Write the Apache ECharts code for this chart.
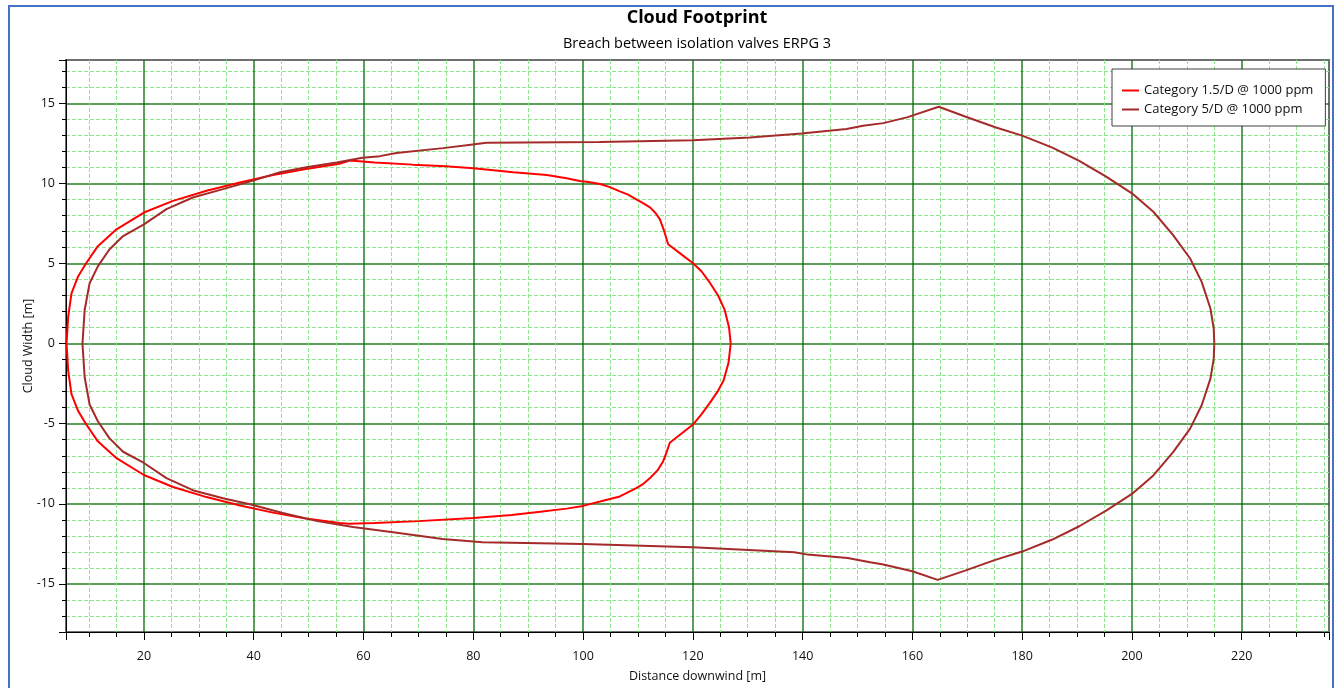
<!DOCTYPE html>
<html>
<head>
<meta charset="utf-8">
<title>Cloud Footprint</title>
<script src="https://cdn.jsdelivr.net/npm/echarts@6/dist/echarts.min.js"></script>
<style>
  html, body { margin: 0; padding: 0; background: #ffffff; }
  #chart { width: 1336px; height: 688px; }
</style>
</head>
<body>
<div id="chart"></div>
<script>
// Chart heading
const chartTitle = 'Cloud Footprint';
const chartSubtitle = 'Breach between isolation valves ERPG 3';

// Series names shown in the legend
const seriesNames = ['Category 1.5/D @ 1000 ppm', 'Category 5/D @ 1000 ppm'];

// Footprint outline for weather category 1.5/D: [distance downwind (m), cloud width (m)]
const footprint15D = [
  [126.9, 0], [126.6, 1.0], [125.8, 2.1], [124.6, 3.0], [123.1, 3.8], [121.6, 4.5],
  [120.1, 5.0], [117.8, 5.6], [115.5, 6.2], [114.8, 7.0], [114.0, 7.75], [113.2, 8.15],
  [112.2, 8.5], [111.0, 8.75], [109.7, 9.0], [108.2, 9.3], [106.7, 9.5], [105.0, 9.75],
  [103.1, 9.96], [101.0, 10.08], [99.4, 10.15], [97.0, 10.32], [93.4, 10.52], [87.3, 10.69],
  [80.0, 10.94], [75.0, 11.07], [69.0, 11.17], [62.0, 11.3], [59.8, 11.36], [57.5, 11.42],
  [55.6, 11.22], [49.5, 10.9], [43.5, 10.52], [37.5, 10.06], [31.4, 9.54], [25.3, 8.91],
  [20.0, 8.18], [15.0, 7.13], [11.6, 6.08], [9.5, 5.03], [8.0, 4.19], [6.8, 3.14],
  [6.2, 1.68], [5.9, 0],
  [6.2, -1.7], [6.8, -3.15], [8.0, -4.2], [9.5, -5.05], [11.6, -6.1], [15.0, -7.15],
  [20.0, -8.2], [25.3, -8.95], [31.4, -9.58], [37.5, -10.1], [43.5, -10.55], [49.5, -10.92],
  [55.6, -11.2], [57.3, -11.25], [62.0, -11.2], [70.0, -11.08], [80.0, -10.88], [87.0, -10.7],
  [92.2, -10.5], [97.0, -10.3], [100.0, -10.13], [103.1, -9.86], [106.7, -9.54], [109.7, -9.02],
  [111.0, -8.75], [112.2, -8.39], [113.6, -7.9], [114.6, -7.34], [115.2, -6.8], [115.8, -6.19],
  [118.0, -5.6], [120.1, -5.03], [121.6, -4.4], [123.1, -3.7], [124.5, -3.0], [125.6, -2.3],
  [126.5, -1.2], [126.9, 0]
];

// Footprint outline for weather category 5/D: [distance downwind (m), cloud width (m)]
const footprint5D = [
  [215.0, 0], [214.9, 0.94], [214.3, 2.19], [212.7, 3.85], [210.6, 5.31], [207.5, 6.77],
  [203.9, 8.23], [200.0, 9.38], [195.3, 10.42], [190.4, 11.4], [185.5, 12.23], [180.0, 12.98],
  [175.1, 13.5], [169.6, 14.17], [164.8, 14.78], [159.0, 14.12], [154.7, 13.76], [151.0, 13.6],
  [148.0, 13.39], [139.8, 13.11], [130.4, 12.86], [120.0, 12.69], [103.0, 12.58], [82.4, 12.53],
  [79.9, 12.43], [74.5, 12.2], [66.0, 11.9], [63.0, 11.7], [59.8, 11.6], [55.1, 11.3],
  [49.6, 11.0], [44.8, 10.7], [39.9, 10.17], [34.4, 9.64], [28.9, 9.12], [24.1, 8.39],
  [20.0, 7.44], [16.2, 6.71], [13.7, 5.87], [11.6, 4.82], [10.1, 3.77], [9.2, 2.1], [8.8, 0],
  [9.2, -2.1], [10.1, -3.8], [11.6, -4.85], [13.7, -5.9], [16.2, -6.75], [20.0, -7.45],
  [24.1, -8.4], [28.9, -9.15], [34.4, -9.65], [39.5, -10.04], [45.1, -10.56], [51.6, -11.08],
  [58.1, -11.44], [65.4, -11.77], [74.4, -12.19], [81.7, -12.4], [100.0, -12.5], [120.0, -12.71],
  [138.5, -13.02], [140.9, -13.17], [148.2, -13.38], [152.3, -13.65], [154.7, -13.79], [160.0, -14.21],
  [164.6, -14.75], [169.6, -14.17], [175.1, -13.5], [180.0, -12.98], [185.5, -12.23], [190.4, -11.4],
  [195.3, -10.42], [200.0, -9.38], [203.9, -8.23], [207.5, -6.77], [210.6, -5.31], [212.7, -3.85],
  [214.3, -2.19], [214.9, -0.94], [215.0, 0]
];

const FONT = '"Open Sans", "Noto Sans", sans-serif';
const majorGrid = { show: true, showMinLine: false, showMaxLine: false,
  lineStyle: { color: 'rgba(0, 105, 0, 0.64)', width: 2 } };
const minorGrid = { show: true,
  lineStyle: { color: '#8fe68f', width: 1, type: [4, 2] } };

const chart = echarts.init(document.getElementById('chart'), null, { renderer: 'canvas' });

chart.setOption({
  backgroundColor: '#ffffff',
  animation: false,
  legend: {
    orient: 'vertical',
    left: 1112,
    top: 69,
    padding: [15, 12, 10, 10],
    itemGap: 6,
    itemWidth: 17,
    itemHeight: 2,
    icon: 'rect',
    backgroundColor: '#ffffff',
    borderColor: '#404040',
    borderWidth: 1,
    borderRadius: 0,
    textStyle: { fontFamily: FONT, fontSize: 13, color: '#111' },
    data: seriesNames
  },
  graphic: [
    {
      // heading, centred over the plot area
      type: 'text',
      silent: true,
      x: 697, y: 18,
      style: { text: chartTitle, align: 'center', verticalAlign: 'middle',
        font: 'bold 18px ' + FONT, fill: '#000' }
    },
    {
      type: 'text',
      silent: true,
      x: 697, y: 44,
      style: { text: chartSubtitle, align: 'center', verticalAlign: 'middle',
        font: '14.5px ' + FONT, fill: '#000' }
    },
    {
      // outer frame
      type: 'rect',
      silent: true,
      z: 100,
      shape: { x: 9, y: 6, width: 1324, height: 700 },
      style: { fill: 'none', stroke: '#4472c4', lineWidth: 2 }
    }
  ],
  grid: {
    left: 66, top: 60, right: 7, bottom: 56,
    show: true,
    borderColor: '#707070',
    borderWidth: 2,
    backgroundColor: '#ffffff'
  },
  xAxis: {
    type: 'value',
    min: 5.8,
    max: 235.9,
    minInterval: 20,
    maxInterval: 20,
    splitNumber: 11,
    name: 'Distance downwind [m]',
    nameLocation: 'middle',
    nameGap: 38,
    nameTextStyle: { fontFamily: FONT, fontSize: 12.5, color: '#111' },
    axisLine: { show: true, onZero: false, lineStyle: { color: '#000', width: 1 } },
    axisTick: { show: true, length: 8, lineStyle: { color: '#000' } },
    minorTick: { show: true, splitNumber: 4, length: 5, lineStyle: { color: '#000' } },
    axisLabel: { showMinLabel: false, showMaxLabel: false, margin: 18,
      fontFamily: FONT, fontSize: 12.5, color: '#111' },
    splitLine: majorGrid,
    minorSplitLine: minorGrid
  },
  yAxis: {
    type: 'value',
    min: -18,
    max: 17.7,
    minInterval: 5,
    maxInterval: 5,
    splitNumber: 7,
    name: 'Cloud Width [m]',
    nameLocation: 'middle',
    nameGap: 31,
    nameMoveOverlap: false,
    nameTextStyle: { fontFamily: FONT, fontSize: 12.5, color: '#111' },
    axisLine: { show: true, onZero: false, lineStyle: { color: '#000', width: 1 } },
    axisTick: { show: true, length: 7, lineStyle: { color: '#000' } },
    minorTick: { show: true, splitNumber: 5, length: 4, lineStyle: { color: '#000' } },
    axisLabel: { showMinLabel: false, showMaxLabel: false, margin: 11,
      fontFamily: FONT, fontSize: 12.5, color: '#111' },
    splitLine: majorGrid,
    minorSplitLine: minorGrid
  },
  series: [
    {
      name: seriesNames[0],
      type: 'line',
      data: footprint15D,
      showSymbol: false,
      symbol: 'none',
      smooth: false,
      clip: true,
      color: '#ff0000',
      lineStyle: { color: '#ff0000', width: 2 },
      z: 3
    },
    {
      name: seriesNames[1],
      type: 'line',
      data: footprint5D,
      showSymbol: false,
      symbol: 'none',
      smooth: false,
      clip: true,
      color: '#a52a2a',
      lineStyle: { color: '#a52a2a', width: 2 },
      z: 4
    }
  ]
});
</script>
</body>
</html>
